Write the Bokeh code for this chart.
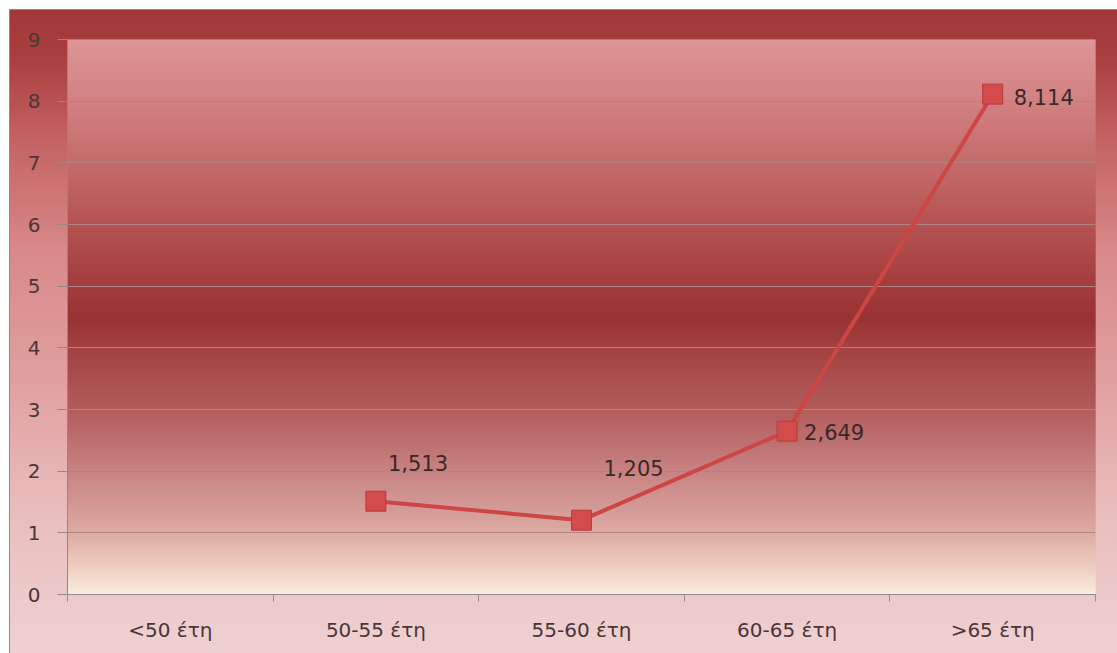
import numpy as np
from bokeh.plotting import figure
from bokeh.models import ColumnDataSource, FixedTicker, Range1d
from bokeh.core.properties import value
from bokeh.embed import file_html
from bokeh.resources import INLINE

# ---- data -------------------------------------------------------------
categories = ["<50 έτη", "50-55 έτη", "55-60 έτη", "60-65 έτη", ">65 έτη"]
rates = [np.nan, 1.513, 1.205, 2.649, 8.114]
y_ticks = [0, 1, 2, 3, 4, 5, 6, 7, 8, 9]

# ---- styling helpers --------------------------------------------------
# vertical colour stops (value on y axis -> colour) for the plot area fill
area_stops = [
    (0.0, "#fbeee1"), (0.5, "#eccbbd"), (1.0, "#dcaba2"), (2.0, "#c88383"),
    (3.0, "#b35c5c"), (4.0, "#a24242"), (4.5, "#983232"), (5.0, "#a33c3c"),
    (6.0, "#b55353"), (7.0, "#c56b6b"), (8.0, "#d28181"), (9.0, "#dd9696"),
]
# per-label offsets in screen pixels (dx, dy)
label_offsets = [(0, 0), (12, -38), (22, -52), (17, 1), (21, 3)]


def hex_to_rgb(h):
    h = h.lstrip("#")
    return np.array([int(h[i:i + 2], 16) for i in (0, 2, 4)], dtype=float)


def band_colors(stops, n):
    ys = np.array([s[0] for s in stops])
    cols = np.array([hex_to_rgb(s[1]) for s in stops])
    edges = np.linspace(ys[0], ys[-1], n + 1)
    mids = (edges[:-1] + edges[1:]) / 2
    rgb = np.stack([np.interp(mids, ys, cols[:, k]) for k in range(3)], axis=1)
    hexes = ["#%02x%02x%02x" % tuple(int(round(c)) for c in row) for row in rgb]
    return edges[:-1], edges[1:], hexes


n_cat = len(categories)
x_pos = [i + 0.5 for i in range(n_cat)]

p = figure(
    width=1107, height=643,
    x_range=Range1d(0, n_cat), y_range=Range1d(y_ticks[0], y_ticks[-1]),
    output_backend="svg", toolbar_location=None,
    min_border_left=57, min_border_right=22, min_border_top=29, min_border_bottom=59,
)
p.margin = (10, 0, 0, 10)
p.border_fill_color = None
p.background_fill_color = None
p.outline_line_color = None
p.styles = {
    "background": "linear-gradient(to bottom, #a13737 0%, #ab4040 8%, #c46262 20%, "
                  "#d88a8a 38%, #e1a0a0 58%, #e9bdbd 78%, #efd1d2 100%)",
    "outline": "1px solid #8f8a8a",
}

# plot-area gradient made of thin horizontal bands
bot, top, cols = band_colors(area_stops, 180)
bands = p.quad(left=0, right=n_cat, bottom=bot, top=top,
               fill_color=cols, line_color=cols, line_width=1)
bands.level = "image"

# grid
p.xgrid.grid_line_color = None
p.ygrid.ticker = FixedTicker(ticks=y_ticks)
p.ygrid.grid_line_color = "#b38282"
p.ygrid.grid_line_width = 1

# y axis
p.yaxis.ticker = FixedTicker(ticks=y_ticks)
p.yaxis.axis_line_color = "#938888"
p.yaxis.major_tick_line_color = "#938888"
p.yaxis.major_tick_out = 10
p.yaxis.major_tick_in = 0
p.yaxis.minor_tick_line_color = None
p.yaxis.major_label_standoff = 17
p.yaxis.major_label_text_font = "DejaVu Sans"
p.yaxis.major_label_text_font_size = "20px"
p.yaxis.major_label_text_color = "#4a3636"

# x axis: labels at category centres, tick marks between categories
p.xaxis.ticker = FixedTicker(ticks=x_pos, minor_ticks=list(range(n_cat + 1)))
p.xaxis.major_label_overrides = {x: c for x, c in zip(x_pos, categories)}
p.xaxis.axis_line_color = "#938888"
p.xaxis.major_tick_line_color = None
p.xaxis.major_tick_out = 0
p.xaxis.major_tick_in = 0
p.xaxis.minor_tick_line_color = "#938888"
p.xaxis.minor_tick_out = 7
p.xaxis.minor_tick_in = 0
p.xaxis.major_label_standoff = 16
p.xaxis.major_label_text_font = "DejaVu Sans"
p.xaxis.major_label_text_font_size = "20px"
p.xaxis.major_label_text_color = "#4a3636"

# series
src = ColumnDataSource(dict(
    x=x_pos,
    y=rates,
    label=["" if np.isnan(v) else f"{v:.3f}".replace(".", ",") for v in rates],
    dx=[o[0] for o in label_offsets],
    dy=[o[1] for o in label_offsets],
))
p.line("x", "y", source=src, line_color="#cd4545", line_width=4)
p.scatter("x", "y", source=src, marker="square", size=20,
          fill_color="#d44b4b", line_color="#bb3b3b", line_width=1)
p.text("x", "y", text="label", source=src, x_offset="dx", y_offset="dy",
       text_align="left", text_baseline="middle",
       text_font=value("DejaVu Sans"), text_font_size="21px", text_color="#3a2828")

open("out.html", "w").write(file_html(p, INLINE))
